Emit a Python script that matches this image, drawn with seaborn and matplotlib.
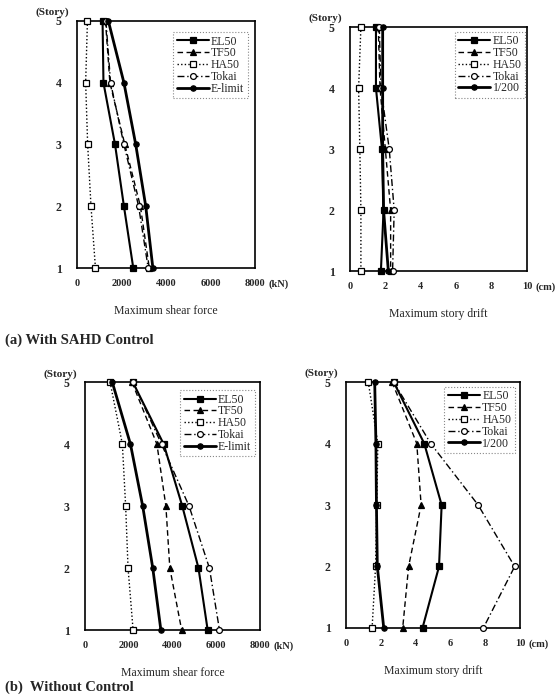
import matplotlib
matplotlib.use("Agg")
import matplotlib.pyplot as plt
import seaborn as sns

sns.set_style("white")
plt.rcParams["font.family"] = ["Liberation Serif", "DejaVu Serif"]

stories = [5, 4, 3, 2, 1]

# (a) With SAHD control - maximum shear force (kN)
shear_a_el50 = [1150, 1190, 1710, 2110, 2530]
shear_a_tf50 = [1280, 1480, 2150, 2850, 3250]
shear_a_ha50 = [470, 390, 480, 630, 830]
shear_a_tokai = [1300, 1510, 2110, 2770, 3200]
shear_a_elimit = [1410, 2110, 2640, 3090, 3410]

# (a) With SAHD control - maximum story drift (cm)
drift_a_el50 = [1.47, 1.47, 1.81, 1.90, 1.75]
drift_a_tf50 = [1.60, 1.70, 2.00, 2.30, 2.30]
drift_a_ha50 = [0.62, 0.49, 0.56, 0.62, 0.62]
drift_a_tokai = [1.66, 1.75, 2.22, 2.50, 2.41]
drift_a_limit = [1.85, 1.85, 1.85, 1.90, 2.17]

# (b) Without control - maximum shear force (kN)
shear_b_el50 = [2190, 3600, 4450, 5190, 5610]
shear_b_tf50 = [2150, 3290, 3700, 3880, 4420]
shear_b_ha50 = [1150, 1710, 1860, 1970, 2200]
shear_b_tokai = [2200, 3500, 4760, 5690, 6150]
shear_b_elimit = [1250, 2080, 2640, 3100, 3470]

# (b) Without control - maximum story drift (cm)
drift_b_el50 = [2.74, 4.50, 5.50, 5.35, 4.40]
drift_b_tf50 = [2.65, 4.07, 4.32, 3.60, 3.26]
drift_b_ha50 = [1.28, 1.83, 1.77, 1.70, 1.50]
drift_b_tokai = [2.74, 4.87, 7.60, 9.70, 7.90]
drift_b_limit = [1.65, 1.72, 1.75, 1.80, 2.17]

shear_ticks = [0, 2000, 4000, 6000, 8000]
drift_ticks = [0, 2, 4, 6, 8, 10]

series_styles = [
    dict(ls="-", lw=1.5, marker="s", ms=4.2, mfc="black"),
    dict(ls=(0, (4, 2.5)), lw=1.0, marker="^", ms=4.2, mfc="black"),
    dict(ls=(0, (1, 1.6)), lw=1.0, marker="s", ms=4.2, mfc="white"),
    dict(ls=(0, (5, 2, 1, 2)), lw=1.0, marker="o", ms=4.2, mfc="white"),
    dict(ls="-", lw=2.0, marker="o", ms=3.8, mfc="black"),
]

fig = plt.figure(figsize=(5.59, 6.98), dpi=100)

# rect, series, legend names, ticks, unit, unit offset (pt), xlabel, legend anchor
panels = [
    ([0.1377, 0.616, 0.3185, 0.354],
     [shear_a_el50, shear_a_tf50, shear_a_ha50, shear_a_tokai, shear_a_elimit],
     ["EL50", "TF50", "HA50", "Tokai", "E-limit"],
     shear_ticks, "(kN)", 9.5, "Maximum shear force", (0.96, 0.955)),
    ([0.626, 0.6117, 0.3166, 0.3496],
     [drift_a_el50, drift_a_tf50, drift_a_ha50, drift_a_tokai, drift_a_limit],
     ["EL50", "TF50", "HA50", "Tokai", "1/200"],
     drift_ticks, "(cm)", 6.0, "Maximum story drift", (0.99, 0.98)),
    ([0.152, 0.0974, 0.313, 0.355],
     [shear_b_el50, shear_b_tf50, shear_b_ha50, shear_b_tokai, shear_b_elimit],
     ["EL50", "TF50", "HA50", "Tokai", "E-limit"],
     shear_ticks, "(kN)", 9.5, "Maximum shear force", (0.97, 0.968)),
    ([0.619, 0.1003, 0.311, 0.3524],
     [drift_b_el50, drift_b_tf50, drift_b_ha50, drift_b_tokai, drift_b_limit],
     ["EL50", "TF50", "HA50", "Tokai", "1/200"],
     drift_ticks, "(cm)", 6.0, "Maximum story drift", (0.97, 0.98)),
]

for rect, series, names, ticks, unit, unit_dx, xlabel, leg_anchor in panels:
    ax = fig.add_axes(rect)
    for vals, name, st in zip(series, names, series_styles):
        sns.lineplot(x=vals, y=stories, orient="y", sort=False, ax=ax,
                     color="black", linestyle=st["ls"], linewidth=st["lw"],
                     marker=st["marker"], markersize=st["ms"],
                     markerfacecolor=st["mfc"], markeredgecolor="black",
                     markeredgewidth=0.9, label=name, legend=False,
                     clip_on=False, zorder=3)
    ax.set_xlim(ticks[0], ticks[-1])
    ax.set_ylim(1, 5)
    ax.set_xticks(ticks)
    ax.set_xticklabels([str(t) for t in ticks])
    ax.set_yticks(stories)
    ax.set_yticklabels([str(s) for s in stories])
    ax.tick_params(axis="both", length=0)
    ax.tick_params(axis="x", pad=8, labelsize=7.5)
    ax.tick_params(axis="y", pad=11, labelsize=8.5)
    for lab in ax.get_xticklabels() + ax.get_yticklabels():
        lab.set_fontweight("bold")
    for sp in ax.spines.values():
        sp.set_visible(True)
        sp.set_color("black")
        sp.set_linewidth(1.2)
        sp.set_zorder(2)
    ax.set_xlabel(xlabel, fontsize=8.5, labelpad=12)
    ax.set_ylabel("")
    ax.annotate(unit, xy=(1, 0), xycoords="axes fraction",
                xytext=(unit_dx, -11.5), textcoords="offset points",
                ha="left", va="center", fontsize=7.5, fontweight="bold")
    ax.annotate("(Story)", xy=(0, 1), xycoords="axes fraction",
                xytext=(-18, 6), textcoords="offset points",
                ha="center", va="center", fontsize=8, fontweight="bold")
    leg = ax.legend(loc="upper right", bbox_to_anchor=leg_anchor,
                    borderaxespad=0, fontsize=8.5, handlelength=2.7,
                    handletextpad=0.2, labelspacing=-0.02, borderpad=0.3,
                    fancybox=False, framealpha=1)
    leg.set_zorder(5)
    frame = leg.get_frame()
    frame.set_edgecolor("#888888")
    frame.set_linewidth(0.8)
    frame.set_linestyle(":")

fig.text(5 / 559, 1 - 340 / 698, "(a) With SAHD Control", fontsize=10.5,
         fontweight="bold", ha="left", va="center")
fig.text(5 / 559, 1 - 687 / 698, "(b)  Without Control", fontsize=10.5,
         fontweight="bold", ha="left", va="center")

fig.savefig("out.png", dpi=100)
